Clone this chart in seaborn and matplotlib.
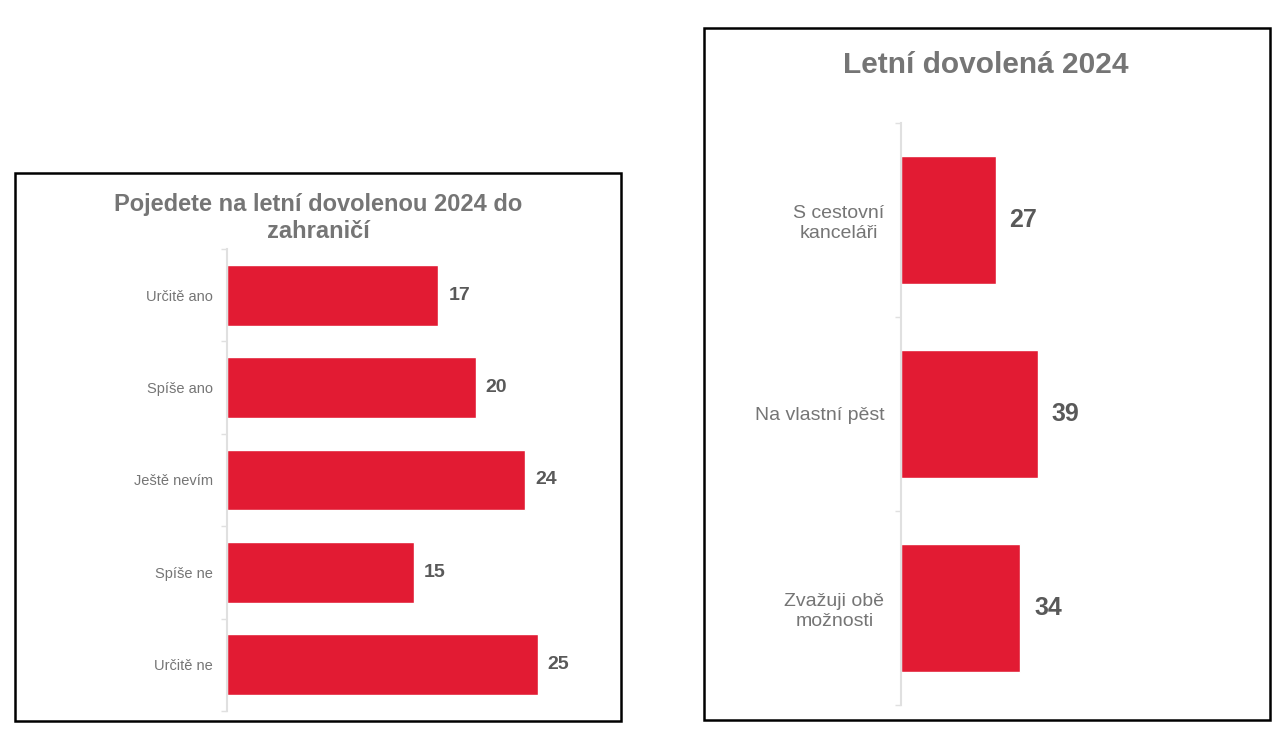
import pandas as pd
import matplotlib.pyplot as plt
import seaborn as sns
from matplotlib.patches import Rectangle

# data
abroad_labels = ['Určitě ano', 'Spíše ano', 'Ještě nevím', 'Spíše ne', 'Určitě ne']
abroad_values = [17, 20, 24, 15, 25]
trip_labels = ['S cestovní\nkanceláři', 'Na vlastní pěst', 'Zvažuji obě\nmožnosti']
trip_values = [27, 39, 34]

RED = '#e21b33'
GREY = '#757575'
DARK = '#595959'
AXIS = '#e0e0e0'

sns.set_theme(style='white')
plt.rcParams['font.family'] = ['Liberation Sans', 'DejaVu Sans']

W, H = 1287, 741
fig = plt.figure(figsize=(W / 100, H / 100), dpi=100)


def px_axes(x0, y0, x1, y1):
    return fig.add_axes([x0 / W, 1 - y1 / H, (x1 - x0) / W, (y1 - y0) / H])


def draw(ax, labels, values, xmax, lab_size, val_size, val_pad, pad):
    df = pd.DataFrame({'cat': labels, 'val': values})
    sns.barplot(data=df, y='cat', x='val', orient='h', color=RED,
                saturation=1, width=0.66, ax=ax)
    ax.set_xlim(0, xmax)
    ax.set_ylim(len(labels) - 0.5, -0.5)
    ax.set_xlabel('')
    ax.set_ylabel('')
    ax.set_xticks([])
    for s in ['top', 'right', 'bottom']:
        ax.spines[s].set_visible(False)
    ax.spines['left'].set_color(AXIS)
    ax.spines['left'].set_linewidth(1.5)
    ax.set_yticks([i - 0.5 for i in range(len(labels) + 1)], minor=True)
    ax.tick_params(axis='y', which='minor', length=4, color=AXIS, width=1.0, left=True)
    ax.tick_params(axis='y', which='major', length=0, pad=pad, labelsize=lab_size, labelcolor=GREY, left=True)
    for t in ax.get_yticklabels():
        t.set_multialignment('center')
    for i, v in enumerate(values):
        ax.text(v + val_pad, i, str(v), va='center', ha='left',
                fontsize=val_size, fontweight='bold', color=DARK)


ax1 = px_axes(227, 249, 600, 711)
draw(ax1, abroad_labels, abroad_values, 30, 10.5, 14, 0.8, 10)

ax2 = px_axes(901, 123, 1251, 705)
draw(ax2, trip_labels, trip_values, 100, 14, 18, 4.0, 12)

fig.text(318 / W, 1 - 218 / H, 'Pojedete na letní dovolenou 2024 do\nzahraničí',
         ha='center', va='center', fontsize=17, fontweight='bold', color=GREY,
         linespacing=1.25)
fig.text(986 / W, 1 - 65 / H, 'Letní dovolená 2024', ha='center', va='center',
         fontsize=21.5, fontweight='bold', color=GREY)

# panel frames
for x0, y0, x1, y1 in [(15, 173, 621, 721), (704, 28, 1270, 720)]:
    fig.patches.append(Rectangle((x0 / W, 1 - y1 / H), (x1 - x0) / W, (y1 - y0) / H,
                                 transform=fig.transFigure, fill=False,
                                 edgecolor='black', linewidth=1.8))

fig.savefig('out.png', dpi=100)
